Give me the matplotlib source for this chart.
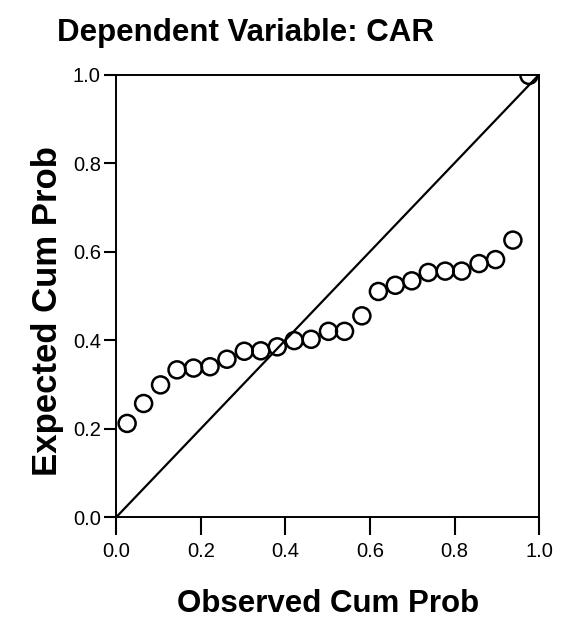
import matplotlib
matplotlib.use('Agg')
import matplotlib.pyplot as plt

plt.rcParams['font.family'] = ['Liberation Sans', 'DejaVu Sans']

# Observed vs expected cumulative probabilities
observed = [0.026, 0.065, 0.105, 0.144, 0.183, 0.222, 0.262, 0.303, 0.342,
            0.381, 0.421, 0.461, 0.502, 0.540, 0.581, 0.620, 0.660, 0.699,
            0.738, 0.778, 0.817, 0.858, 0.897, 0.938, 0.976]
expected = [0.212, 0.257, 0.299, 0.333, 0.337, 0.340, 0.357, 0.375, 0.376,
            0.385, 0.399, 0.402, 0.420, 0.420, 0.455, 0.510, 0.524, 0.534,
            0.553, 0.556, 0.556, 0.573, 0.582, 0.626, 0.998]
ticks = [0.0, 0.2, 0.4, 0.6, 0.8, 1.0]

fig = plt.figure(figsize=(5.61, 6.21), dpi=100)
ax = fig.add_axes([0.207, 0.167, 0.754, 0.713])

# reference diagonal
ax.plot([0, 1], [0, 1], color='black', lw=1.6, zorder=1)
ax.scatter(observed, expected, s=150, facecolors='none', edgecolors='black',
           linewidths=1.8, zorder=2)

ax.set_xlim(0, 1)
ax.set_ylim(0, 1)
ax.set_xticks(ticks)
ax.set_yticks(ticks)
ax.set_xticklabels([f'{t:.1f}' for t in ticks], fontsize=14.5)
ax.set_yticklabels([f'{t:.1f}' for t in ticks], fontsize=14.5)
ax.tick_params(axis='x', direction='out', length=13, width=1.5, pad=5)
ax.tick_params(axis='y', direction='out', length=9, width=1.5, pad=2)
for sp in ax.spines.values():
    sp.set_linewidth(1.4)

ax.set_xlabel('Observed Cum Prob', fontsize=22.5, fontweight='bold', labelpad=20)
# y label sits a little below the axes centre in the original
fig.text(0.085, 0.499, 'Expected Cum Prob', fontsize=25, fontweight='bold',
         rotation=90, ha='center', va='center')
fig.text(0.102, 0.923, 'Dependent Variable: CAR', fontsize=22.5,
         fontweight='bold', ha='left', va='bottom')

fig.savefig('out.png', dpi=100, facecolor='white')
